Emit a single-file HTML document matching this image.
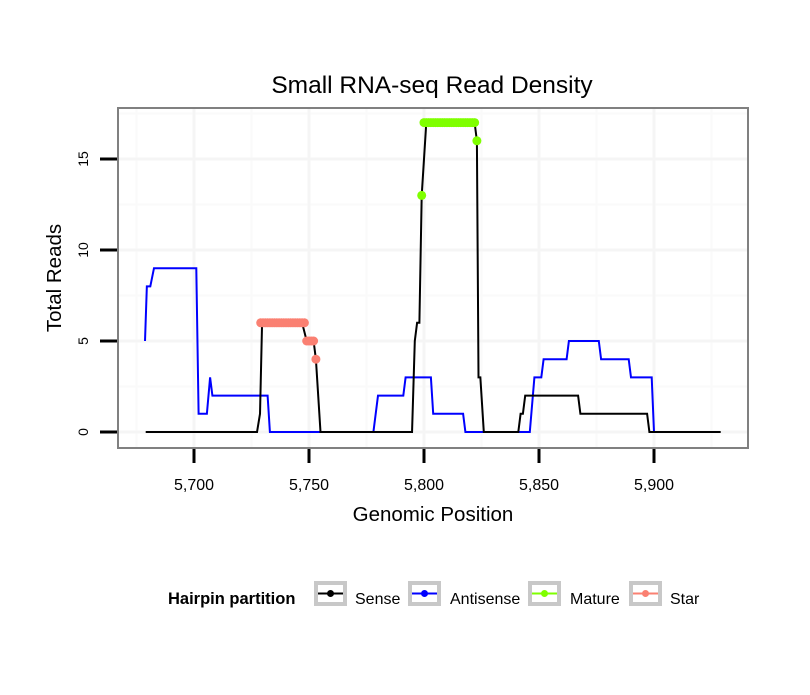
<!DOCTYPE html>
<html><head><meta charset="utf-8"><style>
body{margin:0;background:#fff;font-family:"Liberation Sans",sans-serif}
svg text{font-family:"Liberation Sans",sans-serif}
</style></head><body>
<svg id="chart" width="810" height="690" xmlns="http://www.w3.org/2000/svg">
<rect width="810" height="690" fill="#fff"/>
<text x="432" y="93" font-size="24.5" text-anchor="middle">Small RNA-seq Read Density</text>
<g id="grid"></g>
<g id="series"></g>
<rect x="118" y="108" width="630" height="340" fill="none" stroke="#808080" stroke-width="2"/>
<g id="axes"></g>
<text x="433" y="521" font-size="20.5" text-anchor="middle">Genomic Position</text>
<text transform="translate(61,278) rotate(-90)" font-size="20.5" text-anchor="middle">Total Reads</text>
<g>
<text x="168" y="604" font-size="16.5" font-weight="bold">Hairpin partition</text>
<g><rect x="316" y="583" width="29" height="21" fill="#fff" stroke="#c8c8c8" stroke-width="4"/><line x1="318" y1="593.5" x2="343" y2="593.5" stroke="#000" stroke-width="2"/><circle cx="330.5" cy="593.5" r="3.5" fill="#000"/><text x="355" y="604" font-size="16">Sense</text></g>
<g><rect x="410" y="583" width="29" height="21" fill="#fff" stroke="#c8c8c8" stroke-width="4"/><line x1="412" y1="593.5" x2="437" y2="593.5" stroke="#0000ff" stroke-width="2"/><circle cx="424.5" cy="593.5" r="3.5" fill="#0000ff"/><text x="450" y="604" font-size="16">Antisense</text></g>
<g><rect x="530" y="583" width="29" height="21" fill="#fff" stroke="#c8c8c8" stroke-width="4"/><line x1="532" y1="593.5" x2="557" y2="593.5" stroke="#7fff00" stroke-width="2"/><circle cx="544.5" cy="593.5" r="3.5" fill="#7fff00"/><text x="570" y="604" font-size="16">Mature</text></g>
<g><rect x="631" y="583" width="29" height="21" fill="#fff" stroke="#c8c8c8" stroke-width="4"/><line x1="633" y1="593.5" x2="658" y2="593.5" stroke="#fa8072" stroke-width="2"/><circle cx="645.5" cy="593.5" r="3.5" fill="#fa8072"/><text x="670" y="604" font-size="16">Star</text></g>
</g>
</svg>
<script>
const xTicks=[5700,5750,5800,5850,5900];
const xTickLabels=["5,700","5,750","5,800","5,850","5,900"];
const yTicks=[0,5,10,15];
const yTickLabels=["0","5","10","15"];
const senseX=[5679,5727.4,5728.7,5729.6,5747,5749,5752,5753,5755,5794.8,5796,5797,5798,5799,5801,5822,5823,5823.7,5824.5,5826,5841,5842,5843,5844,5867,5868,5897,5898,5929];
const senseY=[0,0,1,6,6,5,5,4,0,0,5,6,6,13,17,17,16,3,3,0,0,1,1,2,2,1,1,0,0];
const antiX=[5678.7,5679.5,5681,5682.6,5701,5702,5705.6,5707,5708,5732,5733,5778,5780,5791,5792,5803,5804,5817,5818,5846,5848,5851,5852,5862,5863,5876,5877,5889,5890,5899,5900,5928.7];
const antiY=[5,8,8,9,9,1,1,3,2,2,0,0,2,2,3,3,1,1,0,0,3,3,4,4,5,5,4,4,3,3,0,0];
const matureX=[5799,5800,5801,5802,5803,5804,5805,5806,5807,5808,5809,5810,5811,5812,5813,5814,5815,5816,5817,5818,5819,5820,5821,5822,5823];
const matureY=[13,17,17,17,17,17,17,17,17,17,17,17,17,17,17,17,17,17,17,17,17,17,17,17,16];
const starX=[5729,5730,5731,5732,5733,5734,5735,5736,5737,5738,5739,5740,5741,5742,5743,5744,5745,5746,5747,5748,5749,5750,5751,5752,5753];
const starY=[6,6,6,6,6,6,6,6,6,6,6,6,6,6,6,6,6,6,6,6,5,5,5,5,4];
const NS="http://www.w3.org/2000/svg";
function sx(v){return 194+(v-5700)*2.3;}
function sy(v){return 432-v*18.2;}
function mk(tag,attrs,parent){const e=document.createElementNS(NS,tag);for(const k in attrs)e.setAttribute(k,attrs[k]);parent.appendChild(e);return e;}
const grid=document.getElementById('grid'),axes=document.getElementById('axes'),ser=document.getElementById('series');
for(let i=0;i<xTicks.length+1;i++){const v=xTicks[0]-25+i*50;const x=sx(v);if(x>118&&x<748){const l=mk('line',{x1:x,x2:x,y1:108,y2:448,stroke:'#fafafa','stroke-width':2},grid);

}}
for(let i=0;i<yTicks.length+1;i++){const v=yTicks[0]-2.5+i*5;const y=sy(v);if(y>108&&y<448){const l=mk('line',{x1:118,x2:748,y1:y,y2:y,stroke:'#fafafa','stroke-width':2},grid);

}}
xTicks.forEach((v,i)=>{const x=sx(v);
const g=mk('line',{x1:x,x2:x,y1:108,y2:448,stroke:'#f5f5f5','stroke-width':3},grid);


const t=mk('line',{x1:x,x2:x,y1:449,y2:463,stroke:'#000','stroke-width':3},axes);


const tx=mk('text',{x:x,y:490,'font-size':16,'text-anchor':'middle'},axes);tx.textContent=xTickLabels[i];

});
yTicks.forEach((v,i)=>{const y=sy(v);
const g=mk('line',{x1:118,x2:748,y1:y,y2:y,stroke:'#f5f5f5','stroke-width':3},grid);


const t=mk('line',{x1:100,x2:117,y1:y,y2:y,stroke:'#000','stroke-width':3},axes);


const tx=mk('text',{transform:`translate(88,${y}) rotate(-90)`,'font-size':14,'text-anchor':'middle'},axes);tx.textContent=yTickLabels[i];

});
function line(xs,ys,color,name){const p=mk('polyline',{points:xs.map((x,i)=>sx(x)+','+sy(ys[i])).join(' '),fill:'none',stroke:color,'stroke-width':2},ser);

}
line(antiX,antiY,'#0000ff','antisense-line');
line(senseX,senseY,'#000','sense-line');
function pts(xs,ys,color,name){xs.forEach((x,i)=>{const c=mk('circle',{cx:sx(x),cy:sy(ys[i]),r:4.5,fill:color},ser);

});}
pts(starX,starY,'#fa8072','star-point');
pts(matureX,matureY,'#7fff00','mature-point');
</script>
</body></html>
